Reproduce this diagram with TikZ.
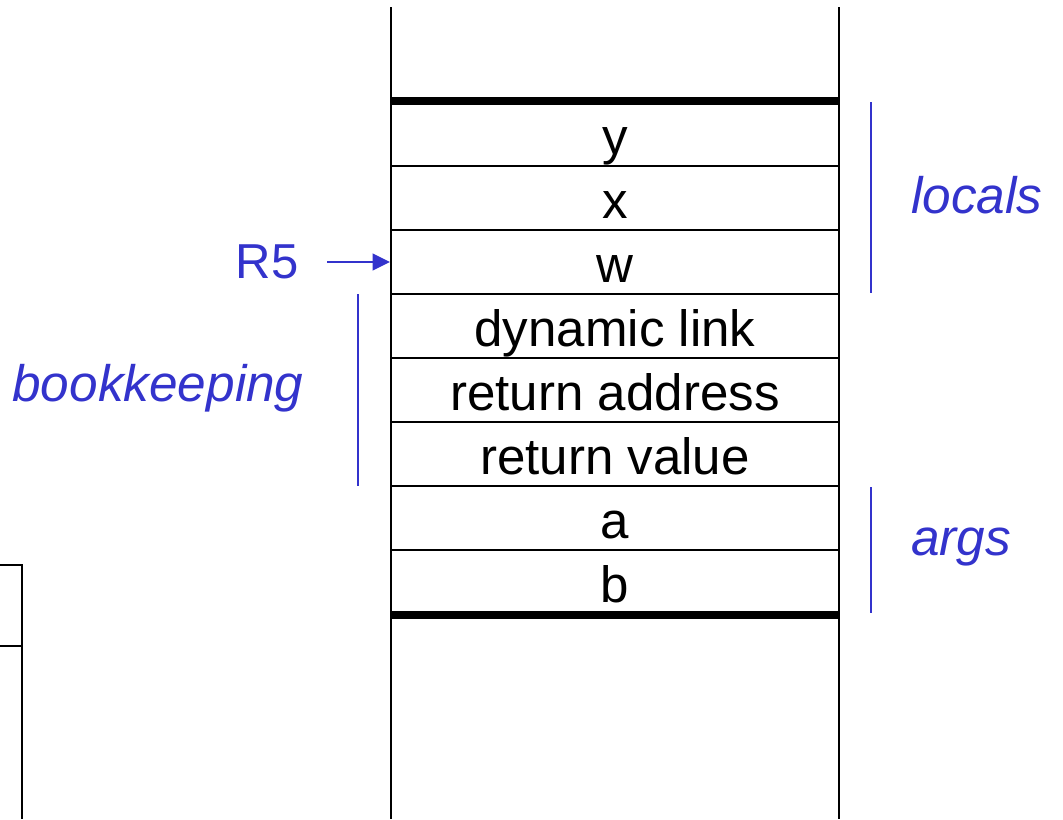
\documentclass[tikz,border=0pt]{standalone}
\usepackage{fontspec}
\setmainfont{Liberation Sans}
\usetikzlibrary{arrows.meta}
\definecolor{lblblue}{RGB}{51,51,204}
\begin{document}
\begin{tikzpicture}[x=0.75pt,y=-0.75pt,
  cell/.style={draw,line width=1.5pt,rectangle,minimum width=336pt,minimum height=48pt,inner sep=0pt,text height=30pt,text depth=0pt,font=\fontsize{38.3}{44}\selectfont},
  rail/.style={line width=1.5pt},
  thickbar/.style={line width=5.5pt},
  bracket/.style={lblblue,line width=1.2pt},
  lbl/.style={lblblue,font=\fontsize{38.5}{44}\selectfont\itshape},
  reglbl/.style={lblblue,font=\fontsize{36.8}{42}\selectfont},
  ptr/.style={lblblue,line width=1.4pt,-{Stealth[length=13pt,width=12.5pt,inset=0pt]}}]
\useasboundingbox (0,0) rectangle (1063,819);
% cells
\node[cell] (y) at (615,134) {y};
\node[cell] (x) at (615,198) {x};
\node[cell] (w) at (615,262) {w};
\node[cell] (dl) at (615,326) {dynamic link};
\node[cell] (ra) at (615,390) {return address};
\node[cell] (rv) at (615,454) {return value};
\node[cell] (a) at (615,518) {a};
\node[cell] (b) at (615,582) {b};
% rails
\coordinate (lt) at (391,7);
\coordinate (lb) at (391,819);
\coordinate (rt) at (839,7);
\coordinate (rb) at (839,819);
\draw[rail] (lt) -- (lb);
\draw[rail] (rt) -- (rb);
\draw[thickbar] (y.north west) -- (y.north east);
\draw[thickbar] (b.south west) -- (b.south east);
% left fragment
\coordinate (f1) at (0,565);
\coordinate (f2) at (22,565);
\coordinate (f3) at (22,819);
\coordinate (f4) at (0,646);
\coordinate (f5) at (22,646);
\draw[rail] (f1) -- (f2) -- (f3);
\draw[rail] (f4) -- (f5);
% brackets
\coordinate (lc1) at (871,102);
\coordinate (lc2) at (871,293);
\coordinate (ag1) at (871,487);
\coordinate (ag2) at (871,613);
\coordinate (bk1) at (358,294);
\coordinate (bk2) at (358,486);
\draw[bracket] (lc1) -- (lc2);
\draw[bracket] (ag1) -- (ag2);
\draw[bracket] (bk1) -- (bk2);
\node[lbl] (locals) at (977,195) {locals};
\node[lbl] (args) at (961,547) {args};
\node[lbl] (book) at (158,388) {bookkeeping};
% R5 pointer
\node[reglbl] (r5) at (267,262) {R5};
\coordinate (r5s) at (327,262);
\draw[ptr] (r5s) -- (w.west);
\end{tikzpicture}
\end{document}
